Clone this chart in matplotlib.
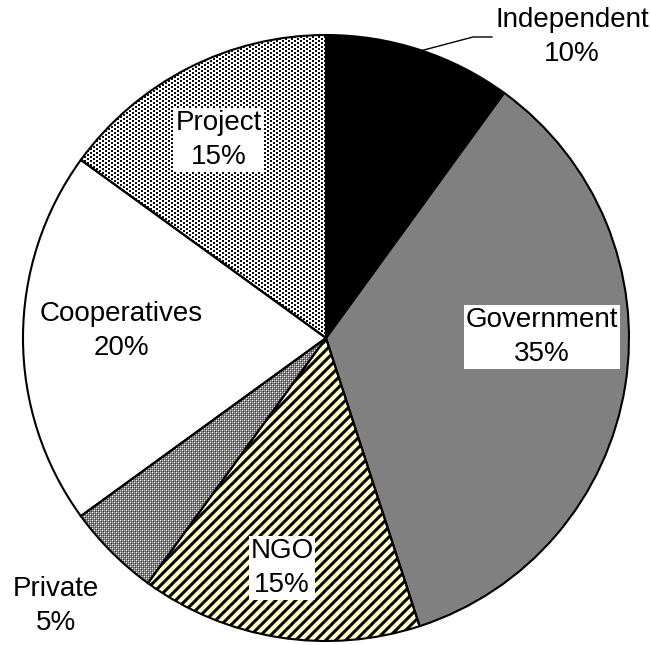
import numpy as np
import matplotlib
matplotlib.use("Agg")
import matplotlib.pyplot as plt

# Share of service providers by type
sectors = ["Independent", "Government", "NGO", "Private", "Cooperatives", "Project"]
shares = [10, 35, 15, 5, 20, 15]

W, H = 651, 645
fig = plt.figure(figsize=(W / 100, H / 100), dpi=100)
ax = fig.add_axes([0, 0, 1, 1])

center = (326, H - 338)
radius = 303

base_colors = ["#000000", "#808080", "#ffffff", "#ffffff", "#ffffff", "#ffffff"]
wedges, _ = ax.pie(shares, startangle=90, counterclock=False, center=center,
                   radius=radius, colors=base_colors, frame=True,
                   wedgeprops=dict(linewidth=0))

# pixel-level fill textures
yy, xx = np.mgrid[0:H, 0:W]

# NGO: black diagonal stripes on pale yellow
yellow = np.array([1.0, 1.0, 0.78])
s = (xx + yy) % 10
dist = np.abs(s - 5.0)
dark = np.clip((2.2 - dist) / 1.4 + 0.5, 0, 1)
stripes = yellow[None, None, :] * (1 - dark[..., None])

# Project: staggered black dots on white
dots = np.ones((H, W, 3))
dmask = ((((xx % 6) < 2) & ((yy % 4) < 2)) |
         ((((xx + 3) % 6) < 2) & (((yy + 2) % 4) < 2)))
dots[dmask] = 0.05

# Private: fine grey weave with white specks
tile = np.array([[1.00, 0.50, 0.70, 0.50],
                 [0.50, 0.20, 0.50, 0.35],
                 [0.70, 0.50, 1.00, 0.50],
                 [0.50, 0.35, 0.50, 0.20]])
weave_v = tile[yy % 4, xx % 4]
weave = np.repeat(weave_v[..., None], 3, axis=2)

textures = {"NGO": stripes, "Project": dots, "Private": weave}
for name, tex in textures.items():
    w = wedges[sectors.index(name)]
    im = ax.imshow(tex, extent=(0, W, 0, H), origin="upper",
                   interpolation="nearest", zorder=2)
    im.set_clip_path(w)

# outlines on top
ax.pie(shares, startangle=90, counterclock=False, center=center,
       radius=radius, frame=True,
       wedgeprops=dict(fill=False, edgecolor="black", linewidth=1.5, zorder=3))

ax.set_xlim(0, W)
ax.set_ylim(0, H)
ax.set_aspect("equal")
ax.axis("off")

label_xy = {
    "Independent": (572, 37),
    "Government": (542, 337),
    "NGO": (282, 568),
    "Private": (56, 606),
    "Cooperatives": (121, 331),
    "Project": (219, 140),
}
boxed = {"Government", "NGO", "Project", "Cooperatives"}

for name, val in zip(sectors, shares):
    x, y = label_xy[name]
    kw = {}
    if name in boxed:
        kw["bbox"] = dict(facecolor="white", edgecolor="none", pad=1.0)
    ax.text(x, H - y, f"{name}\n{val}%", ha="center", va="center",
            multialignment="center", fontsize=20, family="Liberation Sans",
            linespacing=1.43, zorder=5, **kw)

# leader line for the Independent label
ax.plot([420, 473, 492], [H - 51, H - 37, H - 37], color="black", lw=1,
        zorder=4)

fig.savefig("out.png", dpi=100, facecolor="white")
